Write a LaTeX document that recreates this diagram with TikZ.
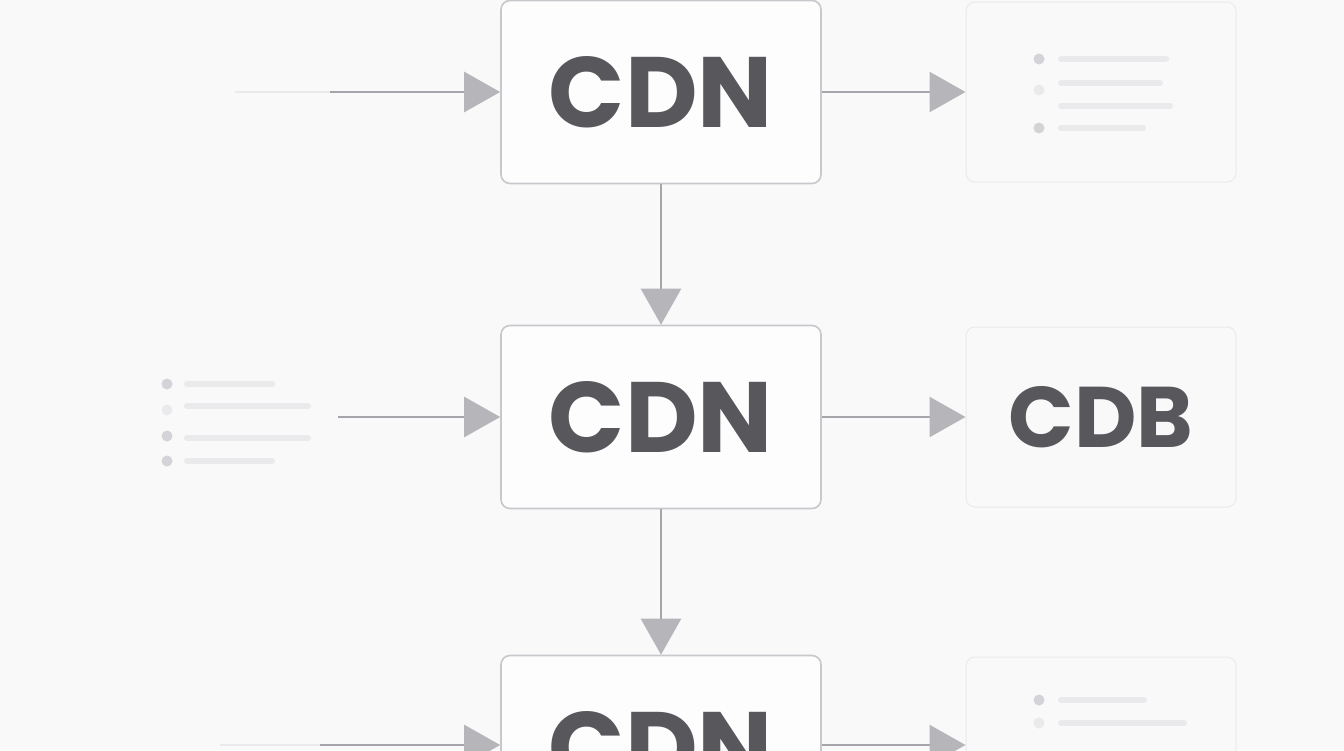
\documentclass[tikz,border=0pt]{standalone}
\usepackage{fontspec}
\setmainfont{Poppins}
\usetikzlibrary{arrows.meta}
\definecolor{bg}{HTML}{F9F9FA}
\definecolor{txt}{HTML}{58585C}
\definecolor{edge}{HTML}{C8C8CC}
\definecolor{ln}{HTML}{A6A6AA}
\definecolor{tip}{HTML}{B6B6BA}
\definecolor{faint}{HTML}{EAEAEC}
\definecolor{dotc}{HTML}{D4D4D8}
\begin{document}
\begin{tikzpicture}[x=1pt,y=-1pt,
  box/.style={draw=edge,line width=1.6pt,fill=white!70!bg,rounded corners=9pt,minimum width=320pt,minimum height=183pt,inner sep=0pt,text=txt,font=\fontsize{100}{100}\selectfont\bfseries},
  fbox/.style={draw=faint,line width=1pt,fill=bg,rounded corners=9pt,minimum width=270pt,minimum height=180pt,inner sep=0pt,text=txt,font=\fontsize{86}{86}\selectfont\bfseries},
  arr/.style={draw=ln,line width=2.6pt,-{Triangle[length=36pt,width=40pt,color=tip]}},
  farr/.style={draw=faint,line width=2.6pt},
  bar/.style={line width=6pt,line cap=round,draw=faint},
  dt/.style={circle,fill=dotc,inner sep=0pt,minimum size=11pt}]
\fill[bg] (0,0) rectangle (1344,750);
\useasboundingbox (0,0) rectangle (1344,750);
% central boxes
\node[box] (c1) at (661,92) {CDN};
\node[box] (c2) at (661,417) {CDN};
\node[box] (c3) at (661,747) {CDN};
% right boxes
\node[fbox] (r1) at (1101,92) {};
\node[fbox] (r2) at (1101,417) {CDB};
\node[fbox] (r3) at (1101,747) {};
% left anchors
\coordinate (l1) at (235,92);
\coordinate (l1b) at (330,92);
\coordinate (l2) at (338,417);
\coordinate (l3) at (220,745);
\coordinate (l3b) at (320,745);
% vertical arrows
\draw[arr] (c1.south) -- (c2.north);
\draw[arr] (c2.south) -- (c3.north);
% horizontal arrows
\draw[farr] (l1) -- (l1b);
\draw[arr] (l1b) -- (c1.west |- l1b);
\draw[arr] (c1.east) -- (r1.west);
\draw[arr] (l2) -- (c2.west |- l2);
\draw[arr] (c2.east) -- (r2.west);
\draw[farr] (l3) -- (l3b);
\draw[arr] (l3b) -- (c3.west |- l3b);
\draw[arr] (c3.east |- l3b) -- (r3.west |- l3b);
% list top right
\node[dt] (d1) at (1039,59) {};
\node[dt,fill=faint] (d2) at (1039,90) {};
\node[dt] (d3) at (1039,128) {};
\draw[bar] (1061,59) -- (1166,59);
\draw[bar] (1061,83) -- (1160,83);
\draw[bar] (1061,106) -- (1170,106);
\draw[bar] (1061,128) -- (1143,128);
% list left
\node[dt] (e1) at (167,384) {};
\node[dt,fill=faint] (e2) at (167,410) {};
\node[dt] (e3) at (167,436) {};
\node[dt] (e4) at (167,461) {};
\draw[bar] (187,384) -- (272,384);
\draw[bar] (187,406) -- (308,406);
\draw[bar] (187,438) -- (308,438);
\draw[bar] (187,461) -- (272,461);
% list bottom right
\node[dt] (f1) at (1039,700) {};
\node[dt,fill=faint] (f2) at (1039,723) {};
\draw[bar] (1061,700) -- (1144,700);
\draw[bar] (1061,723) -- (1184,723);
\end{tikzpicture}
\end{document}
